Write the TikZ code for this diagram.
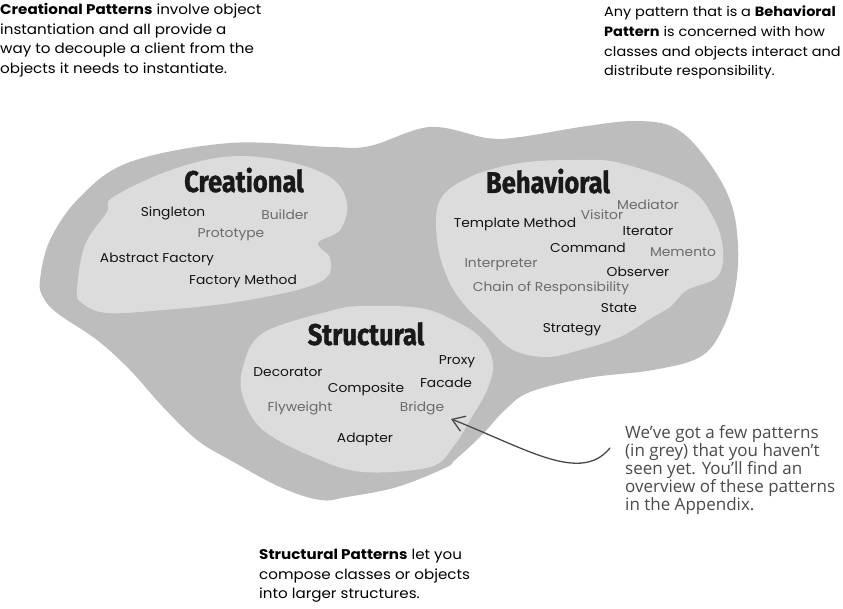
\documentclass[tikz,border=0pt]{standalone}
\usepackage{fontspec}
\setmainfont[FakeStretch=1.08]{Poppins}
\newfontfamily\titlefont[FakeStretch=0.85,FakeBold=1.2]{Fira Sans}
\newfontfamily\handfont{Open Sans}
\usetikzlibrary{arrows.meta}
\definecolor{outerg}{HTML}{BDBDBD}
\definecolor{innerg}{HTML}{DCDCDD}
\definecolor{greytext}{HTML}{6B6B6B}
\definecolor{handc}{HTML}{4A4A4A}
\begin{document}
\begin{tikzpicture}[x=1pt,y=-1pt,
  pat/.style={anchor=base, inner sep=0pt, font=\fontsize{12.8}{15}\selectfont, text=black!92},
  newpat/.style={pat, text=greytext},
  grouptitle/.style={anchor=base, inner sep=0pt, font=\titlefont\bfseries\fontsize{30}{30}\selectfont, text=black!90},
  body/.style={anchor=north west, inner sep=0pt, align=left, font=\fontsize{14}{19.6}\selectfont},
  bodyright/.style={body, font=\fontsize{13.4}{19.6}\selectfont},
  hand/.style={anchor=north west, inner sep=0pt, align=left, text=handc, font=\handfont\fontsize{17}{18}\selectfont},
  outerblob/.style={fill=outerg, draw=none},
  innerblob/.style={fill=innerg, draw=none},
  pointer/.style={draw=handc, line width=1.3pt, line cap=round, -{Straight Barb[length=12pt,width=16pt,line width=1.3pt]}}
]
\useasboundingbox (0,0) rectangle (843,609);

% outer blob
\path[outerblob] plot[smooth cycle, tension=0.6] coordinates {
 (40,280) (50,240) (80,197) (130,162) (230,143) (330,147) (370,146) (430,127)
 (487,138) (520,137) (587,126) (637,121) (675,128) (705,157) (730,200) (738,245)
 (735,290) (722,330) (700,357) (653,370) (587,378) (530,392) (505,410) (480,437)
 (455,460) (445,468) (397,487) (347,497) (320,500) (280,487) (230,460) (197,440)
 (163,407) (130,370) (97,340) (57,313) (43,297)};

% creational blob
\path[innerblob] plot[smooth cycle, tension=0.6] coordinates {
 (77,290) (85,245) (107,212) (112,198) (163,173) (223,157) (280,160) (330,177)
 (347,203) (340,230) (318,243) (330,258) (327,277) (297,290) (230,303) (163,310)
 (107,313) (82,303)};

% behavioral blob
\path[innerblob] plot[smooth cycle, tension=0.6] coordinates {
 (440,200) (470,177) (520,163) (577,160) (620,163) (687,187) (713,217) (723,250)
 (717,277) (687,290) (670,307) (653,317) (620,337) (580,350) (547,357) (513,350)
 (487,327) (463,303) (447,277) (437,240)};

% structural blob
\path[innerblob] plot[smooth cycle, tension=0.6] coordinates {
 (330,311) (363,306) (420,308) (453,320) (480,337) (493,363) (487,390) (470,420)
 (453,447) (430,467) (363,472) (313,457) (263,430) (243,397) (243,367) (263,333)};

% titles
\node[grouptitle] (tcre) at (244,192) {Creational};
\node[grouptitle] (tbeh) at (548,193) {Behavioral};
\node[grouptitle] (tstr) at (366,345) {Structural};

% creational patterns
\node[pat] (singleton) at (173,217) {Singleton};
\node[newpat] (builder) at (285,220) {Builder};
\node[newpat] (prototype) at (231,238) {Prototype};
\node[pat] (absfac) at (157,263) {Abstract Factory};
\node[pat] (facmeth) at (243,285) {Factory Method};

% behavioral patterns
\node[newpat] (mediator) at (648,210) {Mediator};
\node[newpat] (visitor) at (602,220) {Visitor};
\node[pat] (template) at (515,228) {Template Method};
\node[pat] (iterator) at (648,236) {Iterator};
\node[pat] (command) at (588,253) {Command};
\node[newpat] (memento) at (683,257) {Memento};
\node[newpat] (interp) at (501,268) {Interpreter};
\node[pat] (observer) at (638,277) {Observer};
\node[newpat] (chain) at (551,292) {Chain of Responsibility};
\node[pat] (state) at (619,313) {State};
\node[pat] (strategy) at (572,333) {Strategy};

% structural patterns
\node[pat] (proxy) at (457,364) {Proxy};
\node[pat] (decorator) at (288,377) {Decorator};
\node[pat] (composite) at (366,392) {Composite};
\node[pat] (facade) at (446,387) {Facade};
\node[newpat] (flyweight) at (300,411) {Flyweight};
\node[newpat] (bridge) at (422,411) {Bridge};
\node[pat] (adapter) at (365,442) {Adapter};

% descriptions
\node[body] (credesc) at (0,3) {\textbf{Creational Patterns} involve object\\instantiation and all provide a\\way to decouple a client from the\\objects it needs to instantiate.};
\node[bodyright] (behdesc) at (604,6) {Any pattern that is a \textbf{Behavioral}\\\textbf{Pattern} is concerned with how\\classes and objects interact and\\distribute responsibility.};
\node[body] (strdesc) at (259,549) {\textbf{Structural Patterns} let you\\compose classes or objects\\into larger structures.};

% handwritten note
\node[hand] (note) at (625,425) {We’ve got a few patterns\\(in grey) that you haven’t\\seen yet. You’ll find an\\overview of these patterns\\in the Appendix.};

\coordinate (arrS) at (610,448);
\coordinate (arrT) at (451,419);
\draw[pointer] (arrS) .. controls (592,470) and (565,466) .. (525,450)
  .. controls (500,440) and (472,427) .. (arrT);
\end{tikzpicture}
\end{document}
